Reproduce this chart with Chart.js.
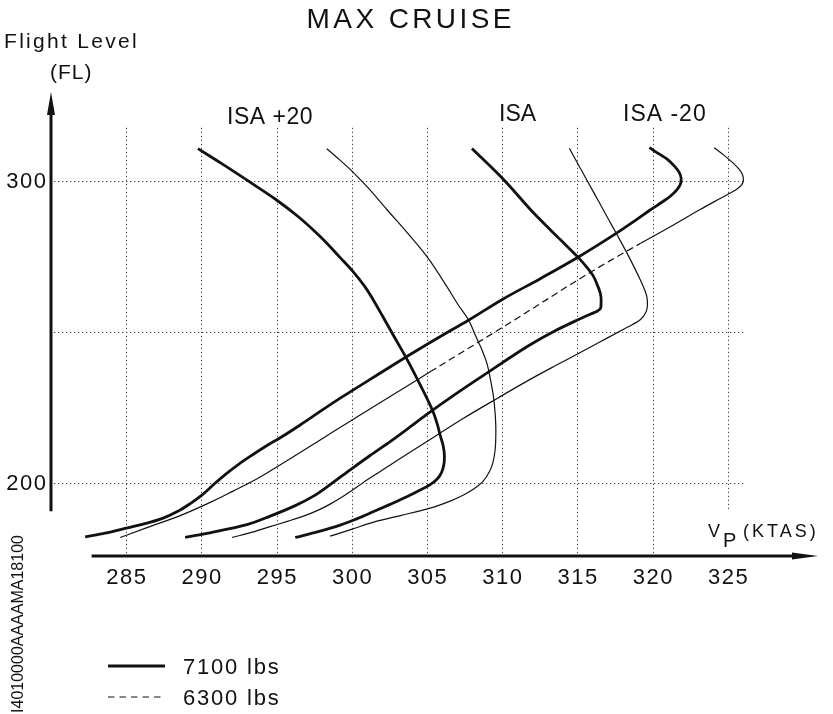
<!DOCTYPE html>
<html>
<head>
<meta charset="utf-8">
<title>MAX CRUISE</title>
<script src="https://cdn.jsdelivr.net/npm/chart.js@4.4.1/dist/chart.umd.min.js"></script>
<style>
  html, body { margin: 0; padding: 0; background: #fff; }
  canvas { display: block; }
</style>
</head>
<body>
<canvas id="chart" width="833" height="714"></canvas>
<script>
// Max cruise TAS vs flight level, two weights for each ISA condition.
// Each curve runs from its low-altitude end, round the nose, to the top,
// so FL always rises along a curve: smooth it monotone along y.
const xTicks = [285, 290, 295, 300, 305, 310, 315, 320, 325];
const yTicks = [200, 300];
const yGrid = [200, 250, 300];

// ISA +20
const isaHot7100Kt = [296.24, 297.77, 299.23, 300.36, 301.42, 302.55, 303.66, 304.55, 305.21, 305.68, 305.98, 306.13, 306.16, 306.08, 305.91, 305.68, 305.41, 304.55, 303.62, 302.82, 302.07, 301.42, 300.87, 300.03, 299.23, 297.90, 296.51, 294.95, 293.06, 291.38, 289.77];
const isaHot7100Fl = [182.12, 184.04, 186.19, 188.34, 190.60, 193.05, 195.56, 197.78, 199.60, 201.42, 203.74, 206.39, 208.81, 212.35, 215.33, 219.64, 223.61, 232.55, 241.49, 248.44, 255.07, 260.70, 265.00, 270.30, 274.60, 281.56, 287.85, 293.81, 300.10, 305.56, 310.60];
const isaHot6300Kt = [298.56, 300.03, 301.56, 303.22, 305.21, 306.54, 307.43, 308.20, 308.74, 309.14, 309.37, 309.53, 309.58, 309.53, 309.42, 309.20, 308.98, 308.65, 308.20, 307.76, 307.07, 306.41, 304.99, 303.68, 302.33, 301.09, 300.01, 299.16, 298.34];
const isaHot6300Fl = [182.55, 184.87, 187.35, 189.34, 191.82, 194.14, 196.13, 198.44, 200.76, 203.74, 206.62, 211.03, 217.65, 223.28, 228.68, 234.87, 239.74, 244.14, 249.11, 254.07, 259.04, 264.34, 275.03, 282.88, 290.50, 297.62, 303.18, 307.05, 310.60];

// ISA
const isa7100Kt = [288.92, 290.78, 293.03, 294.57, 296.24, 297.45, 298.56, 300.01, 301.22, 302.55, 303.88, 305.10, 306.99, 308.98, 311.86, 313.52, 314.97, 315.85, 316.32, 316.56, 316.58, 316.52, 316.32, 316.07, 315.59, 315.07, 313.86, 312.08, 310.09, 307.99];
const isa7100Fl = [182.12, 183.87, 186.36, 189.17, 192.65, 195.79, 199.60, 204.90, 209.21, 213.77, 218.64, 223.18, 229.80, 236.42, 245.79, 250.43, 253.91, 255.89, 256.89, 258.05, 260.70, 262.91, 265.66, 268.41, 271.62, 274.60, 280.56, 289.40, 300.43, 310.70];
const isa6300Kt = [292.03, 293.38, 294.57, 295.77, 296.79, 297.77, 298.56, 299.30, 300.01, 300.78, 301.89, 303.22, 305.21, 307.43, 309.67, 311.86, 313.52, 314.97, 316.52, 318.07, 318.64, 319.18, 319.54, 319.66, 319.62, 319.47, 319.18, 318.29, 317.63, 317.04, 316.42, 315.79, 315.13, 314.47];
const isa6300Fl = [182.12, 183.87, 185.70, 187.52, 189.17, 191.16, 193.15, 195.30, 197.68, 200.33, 203.91, 208.18, 214.50, 221.52, 228.08, 234.37, 238.84, 242.65, 246.79, 250.93, 252.42, 254.07, 256.39, 259.04, 261.69, 264.01, 267.32, 276.16, 282.22, 287.52, 293.15, 298.77, 304.74, 310.70];

// ISA -20
const isaCold7100Kt = [282.27, 283.60, 285.00, 286.26, 287.46, 288.46, 289.26, 290.03, 290.78, 291.58, 292.45, 293.38, 294.31, 295.24, 296.57, 297.90, 299.23, 301.22, 303.66, 305.21, 306.54, 307.87, 309.98, 312.53, 315.07, 317.63, 318.84, 319.84, 320.64, 321.24, 321.64, 321.87, 321.90, 321.77, 321.50, 320.95, 320.37, 319.79];
const isaCold7100Fl = [182.32, 183.54, 185.20, 186.69, 188.51, 190.83, 193.31, 196.13, 199.44, 202.91, 206.23, 209.37, 212.35, 215.07, 219.30, 223.77, 228.15, 234.37, 241.92, 246.56, 250.43, 254.24, 260.70, 267.65, 274.83, 282.78, 286.85, 290.33, 292.98, 295.13, 297.12, 299.11, 300.76, 302.75, 304.57, 307.22, 309.04, 310.93];
const isaCold6300Kt = [284.60, 286.38, 288.59, 290.80, 292.11, 293.36, 294.57, 295.90, 297.23, 298.68, 300.34, 302.55, 305.21, 307.54, 309.87, 312.53, 314.85, 317.18, 319.18, 321.39, 323.16, 324.49, 325.16, 325.62, 325.92, 326.04, 325.99, 325.79, 325.38, 324.76, 324.10];
const isaCold6300Fl = [182.12, 185.36, 189.34, 194.21, 197.45, 200.60, 204.07, 208.11, 212.25, 216.82, 221.95, 228.74, 236.85, 243.97, 251.09, 259.37, 266.66, 273.61, 279.24, 285.36, 290.50, 294.14, 295.96, 297.28, 298.61, 300.26, 301.92, 303.58, 305.73, 308.38, 310.93];

const heavyLabel = '7100 lbs';
const lightLabel = '6300 lbs';

const INK = '#111';
const HEAVY_W = 2.8;
const LIGHT_W = 1.2;
const FONT = '"Liberation Sans", Arial, Helvetica, sans-serif';

function points(xs, ys) {
  return xs.map(function (x, i) { return { x: x, y: ys[i] }; });
}

function curve(label, xs, ys, heavy, extra) {
  return Object.assign({
    label: label,
    data: points(xs, ys),
    borderColor: INK,
    borderWidth: heavy ? HEAVY_W : LIGHT_W,
    borderJoinStyle: 'round',
    pointRadius: 0,
    cubicInterpolationMode: 'monotone',
    fill: false
  }, extra || {});
}

function text(ctx, str, x, y, size, align, spacing) {
  ctx.font = size + 'px ' + FONT;
  ctx.textAlign = align || 'left';
  ctx.textBaseline = 'alphabetic';
  ctx.letterSpacing = (spacing || 0) + 'px';
  let dx = 0;
  if (align === 'center') dx = (spacing || 0) / 2;
  if (align === 'right') dx = (spacing || 0);
  ctx.fillText(str, x + dx, y);
  ctx.letterSpacing = '0px';
}

const chartDecor = {
  id: 'chartDecor',
  beforeDatasetsDraw(chart) {
    const ctx = chart.ctx;
    const xs = chart.scales.x, ys = chart.scales.y;
    const axisY = ys.getPixelForValue(176);
    ctx.save();
    ctx.strokeStyle = '#444';
    ctx.lineWidth = 1;
    ctx.setLineDash([1.3, 2.7]);
    // vertical grid
    xTicks.forEach(function (v, i) {
      const px = Math.round(xs.getPixelForValue(v)) + 0.5;
      const bottom = i === xTicks.length - 1 ? ys.getPixelForValue(191) : axisY;
      ctx.beginPath();
      ctx.moveTo(px, ys.getPixelForValue(317.5));
      ctx.lineTo(px, bottom);
      ctx.stroke();
    });
    // horizontal grid
    yGrid.forEach(function (v) {
      const py = Math.round(ys.getPixelForValue(v)) + 0.5;
      ctx.beginPath();
      ctx.moveTo(xs.getPixelForValue(280.2), py);
      ctx.lineTo(xs.getPixelForValue(326.1), py);
      ctx.stroke();
    });
    ctx.restore();
  },
  afterDatasetsDraw(chart) {
    const ctx = chart.ctx;
    const xs = chart.scales.x, ys = chart.scales.y;
    const area = chart.chartArea;
    ctx.save();
    ctx.fillStyle = INK;
    ctx.strokeStyle = INK;

    // y axis with arrow
    const ax = xs.getPixelForValue(280);
    ctx.lineWidth = 3;
    ctx.beginPath();
    ctx.moveTo(ax, ys.getPixelForValue(190.8));
    ctx.lineTo(ax, area.top + 14);
    ctx.stroke();
    ctx.beginPath();
    ctx.moveTo(ax, area.top - 1);
    ctx.lineTo(ax - 4, area.top + 22);
    ctx.lineTo(ax + 4, area.top + 22);
    ctx.closePath();
    ctx.fill();

    // x axis with arrow
    const ay = ys.getPixelForValue(176);
    ctx.beginPath();
    ctx.moveTo(xs.getPixelForValue(282.7), ay);
    ctx.lineTo(area.right - 14, ay);
    ctx.stroke();
    ctx.beginPath();
    ctx.moveTo(area.right, ay);
    ctx.lineTo(area.right - 26, ay - 3.5);
    ctx.lineTo(area.right - 26, ay + 3.5);
    ctx.closePath();
    ctx.fill();

    // tick labels
    xTicks.forEach(function (v) {
      text(ctx, String(v), xs.getPixelForValue(v), ay + 28, 22, 'center', 1.5);
    });
    yTicks.forEach(function (v) {
      text(ctx, String(v), ax - 5, ys.getPixelForValue(v) + 7, 22, 'right', 1.5);
    });

    // titles
    text(ctx, 'MAX CRUISE', 409, 28, 28, 'center', 3.4);
    text(ctx, 'Flight Level', 4, 48, 21, 'left', 2.3);
    text(ctx, '(FL)', 50, 79, 21, 'left', 1);

    // curve labels
    text(ctx, 'ISA +20', 227, 124, 23, 'left', 0.5);
    text(ctx, 'ISA', 499, 121, 23, 'left', 0);
    text(ctx, 'ISA -20', 623, 121, 23, 'left', 1);

    // axis name V_P (KTAS)
    text(ctx, 'V', 708, 537, 18, 'left', 0);
    text(ctx, 'P', 723, 547, 20, 'left', 0);
    text(ctx, '(KTAS)', 743, 537, 18, 'left', 3);

    // legend
    ctx.lineWidth = HEAVY_W;
    ctx.beginPath();
    ctx.moveTo(108, 666);
    ctx.lineTo(165, 666);
    ctx.stroke();
    ctx.lineWidth = LIGHT_W;
    ctx.setLineDash([6.5, 5]);
    ctx.beginPath();
    ctx.moveTo(108, 697);
    ctx.lineTo(165, 697);
    ctx.stroke();
    ctx.setLineDash([]);
    text(ctx, heavyLabel, 183, 674, 22, 'left', 1.8);
    text(ctx, lightLabel, 183, 705, 22, 'left', 1.8);

    // drawing reference, vertical
    ctx.translate(23, 624);
    ctx.rotate(-Math.PI / 2);
    text(ctx, 'I4010000AAAAMA18100', 0, 0, 16, 'center', 0);
    ctx.restore();
  }
};

const datasets = [
  curve('ISA +20 ' + heavyLabel, isaHot7100Kt, isaHot7100Fl, true),
  curve('ISA +20 ' + lightLabel, isaHot6300Kt, isaHot6300Fl, false),
  curve('ISA ' + heavyLabel, isa7100Kt, isa7100Fl, true),
  curve('ISA ' + lightLabel, isa6300Kt, isa6300Fl, false),
  curve('ISA -20 ' + heavyLabel, isaCold7100Kt, isaCold7100Fl, true),
  curve('ISA -20 ' + lightLabel, isaCold6300Kt, isaCold6300Fl, false, {
    segment: {
      // the middle stretch of this line is printed dashed
      borderDash: function (c) {
        const a = c.p0.parsed.x, b = c.p1.parsed.x;
        return (a >= 305 && b <= 319.5 && b > a) ? [7, 4] : undefined;
      }
    }
  })
];

new Chart(document.getElementById('chart').getContext('2d'), {
  type: 'line',
  data: { datasets: datasets },
  options: {
    indexAxis: 'y',
    responsive: false,
    animation: false,
    layout: { padding: { left: 51, right: 15, top: 93, bottom: 158 } },
    scales: {
      x: { type: 'linear', min: 280, max: 331, display: false },
      y: { type: 'linear', min: 176, max: 329, display: false }
    },
    plugins: {
      legend: { display: false },
      tooltip: { enabled: false }
    }
  },
  plugins: [chartDecor]
});
</script>
</body>
</html>
